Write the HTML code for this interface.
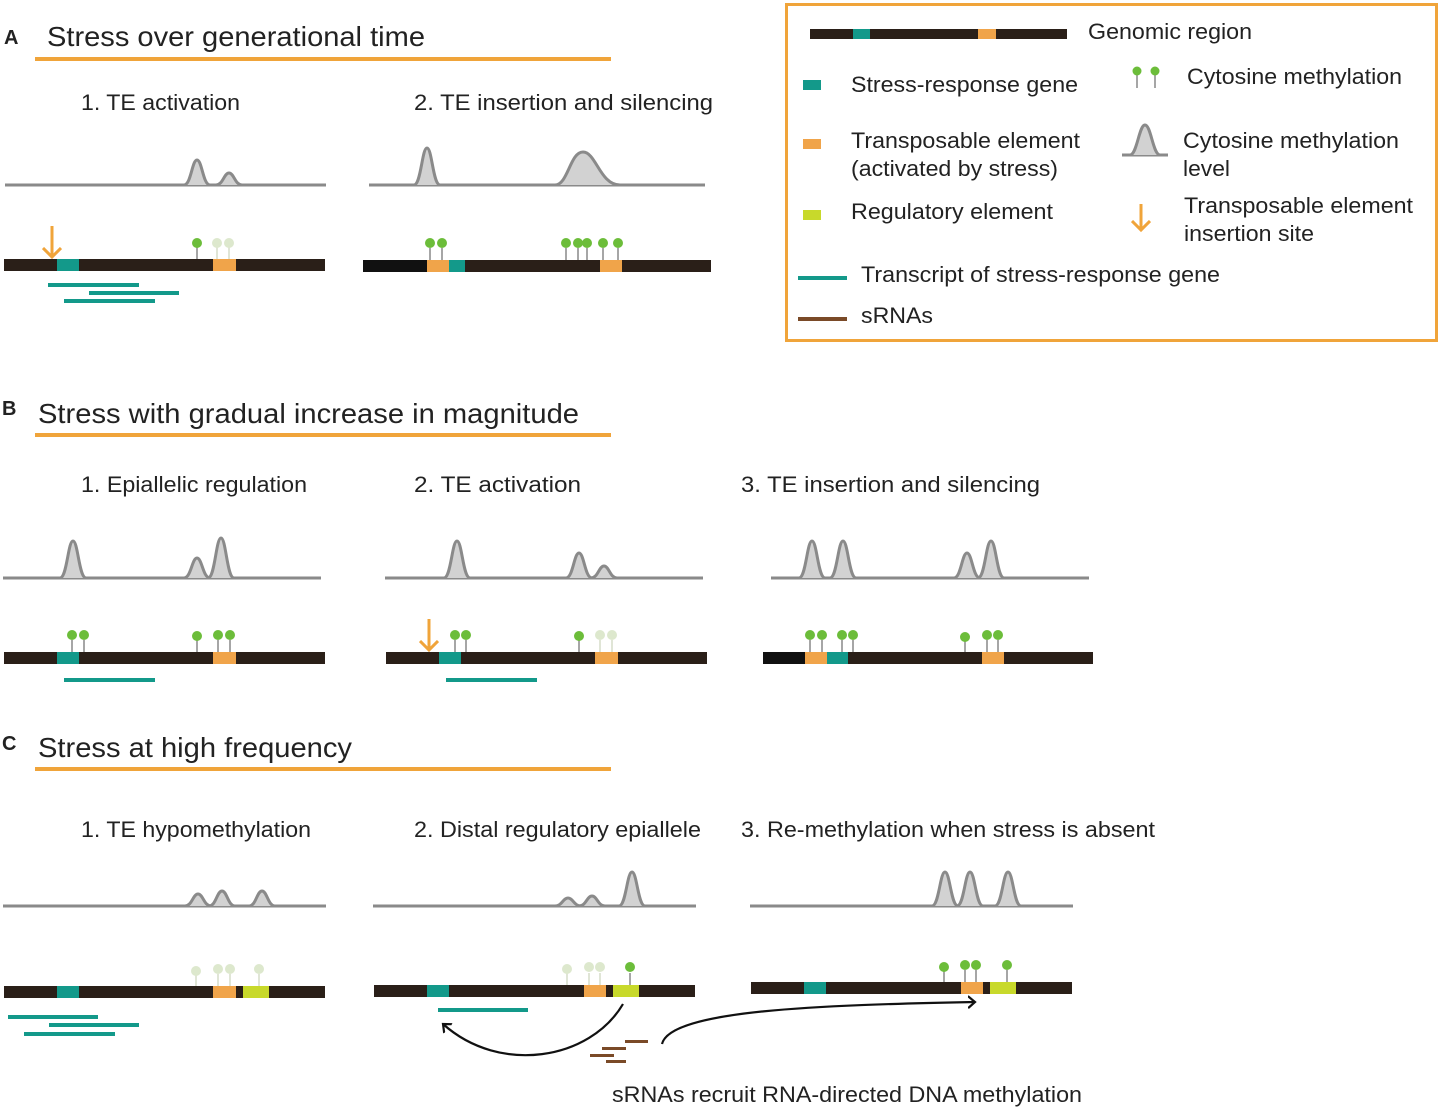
<!DOCTYPE html>
<html><head><meta charset="utf-8"><style>
body{margin:0;background:#fff}
svg{display:block}
text{font-family:"Liberation Sans",sans-serif;fill:#222}
.t{font-size:28px}.s{font-size:22.5px}.l{font-size:22px}.b{font-size:20px;font-weight:bold}
.bl{stroke:#8a8a8a;stroke-width:3;fill:none}
.pk{stroke:#8a8a8a;stroke-width:3;fill:#d2d2d2}
.bar{fill:#2a1f18}
.tl{fill:#13998a}.or{fill:#f0a44a}.yg{fill:#c8d92b}
.st{stroke:#888;stroke-width:1.5}.stf{stroke:#d6dcc8;stroke-width:1.5}
.g{fill:#6cbd3a}.f{fill:#dde8cd}
.ul{fill:#f0a43a}
</style></head><body>
<svg width="1440" height="1110" viewBox="0 0 1440 1110" xmlns="http://www.w3.org/2000/svg">
<defs>
<marker id="ah" markerWidth="20" markerHeight="20" refX="10" refY="10" orient="auto" markerUnits="userSpaceOnUse"><path d="M1,1 L10,10 L1,19" fill="none" stroke="#f0a43a" stroke-width="3"/></marker>
<marker id="bk" markerWidth="14" markerHeight="14" refX="7" refY="7" orient="auto" markerUnits="userSpaceOnUse"><path d="M0,1 L7,7 L0,13" fill="none" stroke="#111" stroke-width="2.2"/></marker>
</defs>

<!-- A -->
<text x="4" y="44" class="b">A</text>
<text x="47" y="46" class="t" textLength="378" lengthAdjust="spacingAndGlyphs">Stress over generational time</text>
<rect x="35" y="57" width="576" height="4" class="ul"/>
<text x="81" y="110" class="s" textLength="159" lengthAdjust="spacingAndGlyphs">1. TE activation</text>
<text x="414" y="110" class="s" textLength="299" lengthAdjust="spacingAndGlyphs">2.  TE insertion and silencing</text>
<line x1="5" y1="185" x2="326" y2="185" class="bl"/>
<path class="pk" d="M184,185 C191,185 192,160 197,160 C202,160 203,185 210,185"/>
<path class="pk" d="M216,185 C223,185 224,173 229,173 C234,173 235,185 242,185"/>
<rect x="4" y="259" width="321" height="12" class="bar"/>
<rect x="57" y="259" width="22" height="12" class="tl"/>
<rect x="213" y="259" width="23" height="12" class="or"/>
<line x1="197" y1="247" x2="197" y2="259" class="st"/><circle cx="197" cy="243" r="5" class="g"/>
<line x1="217" y1="247" x2="217" y2="259" class="stf"/><circle cx="217" cy="243" r="5" class="f"/>
<line x1="229" y1="247" x2="229" y2="259" class="stf"/><circle cx="229" cy="243" r="5" class="f"/>
<line x1="52" y1="226" x2="52" y2="257" stroke="#f0a43a" stroke-width="3" marker-end="url(#ah)"/>
<rect x="48" y="283" width="91" height="4" class="tl"/>
<rect x="89" y="291" width="90" height="4" class="tl"/>
<rect x="64" y="299" width="91" height="4" class="tl"/>

<line x1="369" y1="185" x2="705" y2="185" class="bl"/>
<path class="pk" d="M414,185 C421,185 422,148 427,148 C432,148 433,185 440,185"/>
<path class="pk" d="M555,185 C568,185 570,152 583,152 C596,152 600,185 620,185"/>
<rect x="363" y="260" width="348" height="12" class="bar"/>
<rect x="363" y="260" width="64" height="12" fill="#111"/>
<rect x="427" y="260" width="22" height="12" class="or"/>
<rect x="449" y="260" width="16" height="12" class="tl"/>
<rect x="600" y="260" width="22" height="12" class="or"/>
<g class="st"><line x1="430" y1="248" x2="430" y2="260"/><line x1="442" y1="248" x2="442" y2="260"/><line x1="566" y1="248" x2="566" y2="260"/><line x1="578" y1="248" x2="578" y2="260"/><line x1="587" y1="248" x2="587" y2="260"/><line x1="603" y1="248" x2="603" y2="260"/><line x1="618" y1="248" x2="618" y2="260"/></g>
<g class="g"><circle cx="430" cy="243" r="5"/><circle cx="442" cy="243" r="5"/><circle cx="566" cy="243" r="5"/><circle cx="578" cy="243" r="5"/><circle cx="587" cy="243" r="5"/><circle cx="603" cy="243" r="5"/><circle cx="618" cy="243" r="5"/></g>

<!-- Legend -->
<rect x="786.5" y="4.5" width="650" height="336" fill="none" stroke="#f0a43a" stroke-width="3"/>
<rect x="810" y="29" width="257" height="10" class="bar"/>
<rect x="853" y="29" width="17" height="10" class="tl"/>
<rect x="978" y="29" width="18" height="10" class="or"/>
<text x="1088" y="39" class="l" textLength="164" lengthAdjust="spacingAndGlyphs">Genomic region</text>
<rect x="803" y="80" width="18" height="10" class="tl"/>
<text x="851" y="92" class="l" textLength="227" lengthAdjust="spacingAndGlyphs">Stress-response gene</text>
<rect x="803" y="139" width="18" height="10" class="or"/>
<text x="851" y="148" class="l" textLength="229" lengthAdjust="spacingAndGlyphs">Transposable element</text>
<text x="851" y="176" class="l" textLength="207" lengthAdjust="spacingAndGlyphs">(activated by stress)</text>
<rect x="803" y="210" width="18" height="10" class="yg"/>
<text x="851" y="219" class="l" textLength="202" lengthAdjust="spacingAndGlyphs">Regulatory element</text>
<rect x="798" y="276" width="49" height="4" class="tl"/>
<text x="861" y="282" class="l" textLength="359" lengthAdjust="spacingAndGlyphs">Transcript of stress-response gene</text>
<rect x="798" y="317" width="49" height="4" fill="#7a4a28"/>
<text x="861" y="323" class="l" textLength="72" lengthAdjust="spacingAndGlyphs">sRNAs</text>
<line x1="1137" y1="74" x2="1137" y2="88" class="st"/><circle cx="1137" cy="71" r="4.5" class="g"/>
<line x1="1155" y1="74" x2="1155" y2="88" class="st"/><circle cx="1155" cy="71" r="4.5" class="g"/>
<text x="1187" y="84" class="l" textLength="215" lengthAdjust="spacingAndGlyphs">Cytosine methylation</text>
<line x1="1122" y1="155" x2="1168" y2="155" class="bl"/>
<path class="pk" d="M1130,155 C1137,155 1139,125 1145,125 C1151,125 1153,155 1160,155"/>
<text x="1183" y="148" class="l" textLength="216" lengthAdjust="spacingAndGlyphs">Cytosine methylation</text>
<text x="1183" y="176" class="l" textLength="47" lengthAdjust="spacingAndGlyphs">level</text>
<line x1="1141" y1="204" x2="1141" y2="230" stroke="#f0a43a" stroke-width="3" marker-end="url(#ah)"/>
<text x="1184" y="213" class="l" textLength="229" lengthAdjust="spacingAndGlyphs">Transposable element</text>
<text x="1184" y="241" class="l" textLength="130" lengthAdjust="spacingAndGlyphs">insertion site</text>

<!-- B -->
<text x="2" y="415" class="b">B</text>
<text x="38" y="423" class="t" textLength="541" lengthAdjust="spacingAndGlyphs">Stress with gradual increase in magnitude</text>
<rect x="35" y="433" width="576" height="4" class="ul"/>
<text x="81" y="492" class="s" textLength="226" lengthAdjust="spacingAndGlyphs">1. Epiallelic regulation</text>
<text x="414" y="492" class="s" textLength="167" lengthAdjust="spacingAndGlyphs">2.  TE activation</text>
<text x="741" y="492" class="s" textLength="299" lengthAdjust="spacingAndGlyphs">3.  TE insertion and silencing</text>

<line x1="3" y1="578" x2="321" y2="578" class="bl"/>
<path class="pk" d="M60,578 C67,578 68,541 73,541 C78,541 79,578 86,578"/>
<path class="pk" d="M184,578 C191,578 192,558 197,558 C202,558 203,578 210,578"/>
<path class="pk" d="M208,578 C215,578 216,538 221,538 C226,538 227,578 234,578"/>
<rect x="4" y="652" width="321" height="12" class="bar"/>
<rect x="57" y="652" width="22" height="12" class="tl"/>
<rect x="213" y="652" width="23" height="12" class="or"/>
<g class="st"><line x1="72" y1="640" x2="72" y2="652"/><line x1="84" y1="640" x2="84" y2="652"/><line x1="197" y1="640" x2="197" y2="652"/><line x1="218" y1="640" x2="218" y2="652"/><line x1="230" y1="640" x2="230" y2="652"/></g>
<g class="g"><circle cx="72" cy="635" r="5"/><circle cx="84" cy="635" r="5"/><circle cx="197" cy="636" r="5"/><circle cx="218" cy="635" r="5"/><circle cx="230" cy="635" r="5"/></g>
<rect x="64" y="678" width="91" height="4" class="tl"/>

<line x1="385" y1="578" x2="703" y2="578" class="bl"/>
<path class="pk" d="M444,578 C451,578 452,541 457,541 C462,541 463,578 470,578"/>
<path class="pk" d="M566,578 C573,578 574,553 579,553 C584,553 585,578 592,578"/>
<path class="pk" d="M591,578 C598,578 599,566 604,566 C609,566 610,578 617,578"/>
<rect x="386" y="652" width="321" height="12" class="bar"/>
<rect x="439" y="652" width="22" height="12" class="tl"/>
<rect x="595" y="652" width="23" height="12" class="or"/>
<line x1="429" y1="619" x2="429" y2="650" stroke="#f0a43a" stroke-width="3" marker-end="url(#ah)"/>
<g class="st"><line x1="455" y1="640" x2="455" y2="652"/><line x1="466" y1="640" x2="466" y2="652"/><line x1="579" y1="640" x2="579" y2="652"/></g>
<g class="g"><circle cx="455" cy="635" r="5"/><circle cx="466" cy="635" r="5"/><circle cx="579" cy="636" r="5"/></g>
<g class="stf"><line x1="600" y1="640" x2="600" y2="652"/><line x1="612" y1="640" x2="612" y2="652"/></g>
<g class="f"><circle cx="600" cy="635" r="5"/><circle cx="612" cy="635" r="5"/></g>
<rect x="446" y="678" width="91" height="4" class="tl"/>

<line x1="771" y1="578" x2="1089" y2="578" class="bl"/>
<path class="pk" d="M799,578 C806,578 807,541 812,541 C817,541 818,578 825,578"/>
<path class="pk" d="M830,578 C837,578 838,541 843,541 C848,541 849,578 856,578"/>
<path class="pk" d="M954,578 C961,578 962,553 967,553 C972,553 973,578 980,578"/>
<path class="pk" d="M978,578 C985,578 986,541 991,541 C996,541 997,578 1004,578"/>
<rect x="763" y="652" width="330" height="12" class="bar"/>
<rect x="763" y="652" width="42" height="12" fill="#111"/>
<rect x="805" y="652" width="22" height="12" class="or"/>
<rect x="827" y="652" width="21" height="12" class="tl"/>
<rect x="982" y="652" width="22" height="12" class="or"/>
<g class="st"><line x1="810" y1="640" x2="810" y2="652"/><line x1="822" y1="640" x2="822" y2="652"/><line x1="842" y1="640" x2="842" y2="652"/><line x1="853" y1="640" x2="853" y2="652"/><line x1="965" y1="640" x2="965" y2="652"/><line x1="987" y1="640" x2="987" y2="652"/><line x1="998" y1="640" x2="998" y2="652"/></g>
<g class="g"><circle cx="810" cy="635" r="5"/><circle cx="822" cy="635" r="5"/><circle cx="842" cy="635" r="5"/><circle cx="853" cy="635" r="5"/><circle cx="965" cy="637" r="5"/><circle cx="987" cy="635" r="5"/><circle cx="998" cy="635" r="5"/></g>

<!-- C -->
<text x="2" y="750" class="b">C</text>
<text x="38" y="757" class="t" textLength="314" lengthAdjust="spacingAndGlyphs">Stress at high frequency</text>
<rect x="35" y="767" width="576" height="4" class="ul"/>
<text x="81" y="837" class="s" textLength="230" lengthAdjust="spacingAndGlyphs">1. TE hypomethylation</text>
<text x="414" y="837" class="s" textLength="287" lengthAdjust="spacingAndGlyphs">2. Distal regulatory epiallele</text>
<text x="741" y="837" class="s" textLength="414" lengthAdjust="spacingAndGlyphs">3. Re-methylation when stress is absent</text>

<line x1="3" y1="906" x2="326" y2="906" class="bl"/>
<path class="pk" d="M185,906 C192,906 193,894 198,894 C203,894 204,906 211,906"/>
<path class="pk" d="M209,906 C216,906 217,891 222,891 C227,891 228,906 235,906"/>
<path class="pk" d="M249,906 C256,906 257,891 262,891 C267,891 268,906 275,906"/>
<rect x="4" y="986" width="321" height="12" class="bar"/>
<rect x="57" y="986" width="22" height="12" class="tl"/>
<rect x="213" y="986" width="23" height="12" class="or"/>
<rect x="243" y="986" width="26" height="12" class="yg"/>
<g class="stf"><line x1="196" y1="974" x2="196" y2="986"/><line x1="218" y1="974" x2="218" y2="986"/><line x1="230" y1="974" x2="230" y2="986"/><line x1="259" y1="974" x2="259" y2="986"/></g>
<g class="f"><circle cx="196" cy="971" r="5"/><circle cx="218" cy="969" r="5"/><circle cx="230" cy="969" r="5"/><circle cx="259" cy="969" r="5"/></g>
<rect x="8" y="1015" width="90" height="4" class="tl"/>
<rect x="49" y="1023" width="90" height="4" class="tl"/>
<rect x="24" y="1032" width="91" height="4" class="tl"/>

<line x1="373" y1="906" x2="696" y2="906" class="bl"/>
<path class="pk" d="M555,906 C562,906 563,898 568,898 C573,898 574,906 581,906"/>
<path class="pk" d="M579,906 C586,906 587,896 592,896 C597,896 598,906 605,906"/>
<path class="pk" d="M619,906 C626,906 627,872 632,872 C637,872 638,906 645,906"/>
<rect x="374" y="985" width="321" height="12" class="bar"/>
<rect x="427" y="985" width="22" height="12" class="tl"/>
<rect x="584" y="985" width="22" height="12" class="or"/>
<rect x="613" y="985" width="26" height="12" class="yg"/>
<g class="stf"><line x1="567" y1="973" x2="567" y2="985"/><line x1="589" y1="973" x2="589" y2="985"/><line x1="600" y1="973" x2="600" y2="985"/></g>
<g class="f"><circle cx="567" cy="969" r="5"/><circle cx="589" cy="967" r="5"/><circle cx="600" cy="967" r="5"/></g>
<line x1="630" y1="973" x2="630" y2="985" class="st"/><circle cx="630" cy="967" r="5" class="g"/>
<rect x="438" y="1008" width="90" height="4" class="tl"/>
<path d="M623,1004 C590,1060 500,1075 443,1024" fill="none" stroke="#111" stroke-width="2.2" marker-end="url(#bk)"/>
<g fill="#7a4a28"><rect x="625" y="1040" width="23" height="3"/><rect x="602" y="1047" width="24" height="3"/><rect x="590" y="1054" width="24" height="3"/><rect x="606" y="1060" width="20" height="3"/></g>
<path d="M662,1044 C670,1010 820,1005 975,1002" fill="none" stroke="#111" stroke-width="2.2" marker-end="url(#bk)"/>

<line x1="750" y1="906" x2="1073" y2="906" class="bl"/>
<path class="pk" d="M932,906 C939,906 940,872 945,872 C950,872 951,906 958,906"/>
<path class="pk" d="M957,906 C964,906 965,872 970,872 C975,872 976,906 983,906"/>
<path class="pk" d="M995,906 C1002,906 1003,872 1008,872 C1013,872 1014,906 1021,906"/>
<rect x="751" y="982" width="321" height="12" class="bar"/>
<rect x="804" y="982" width="22" height="12" class="tl"/>
<rect x="961" y="982" width="22" height="12" class="or"/>
<rect x="990" y="982" width="26" height="12" class="yg"/>
<g class="st"><line x1="944" y1="970" x2="944" y2="982"/><line x1="965" y1="970" x2="965" y2="982"/><line x1="976" y1="970" x2="976" y2="982"/><line x1="1007" y1="970" x2="1007" y2="982"/></g>
<g class="g"><circle cx="944" cy="967" r="5"/><circle cx="965" cy="965" r="5"/><circle cx="976" cy="965" r="5"/><circle cx="1007" cy="965" r="5"/></g>

<text x="612" y="1102" class="l" textLength="470" lengthAdjust="spacingAndGlyphs">sRNAs recruit RNA-directed DNA methylation</text>
</svg>
</body></html>
